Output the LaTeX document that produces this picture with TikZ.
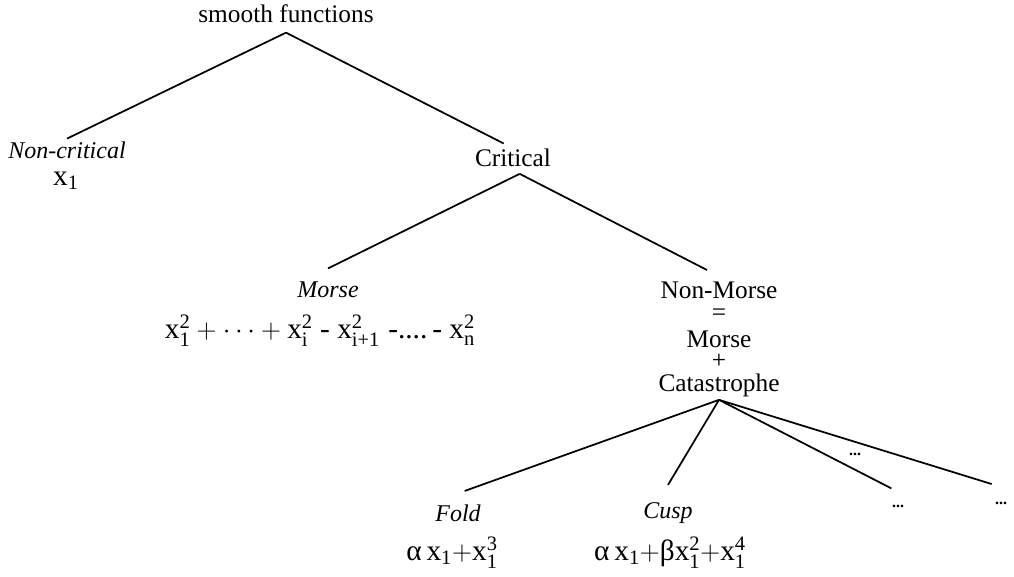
\documentclass[tikz,border=0pt]{standalone}
\usepackage{fontspec}
\usepackage{amsmath}
\setmainfont{Liberation Serif}
\newcommand{\vx}[2]{\text{x}_{\text{#1}}^{\text{#2}}}

\begin{document}
\begin{tikzpicture}[x=0.75pt,y=-0.75pt,
    title/.style={font=\fontsize{19}{21}\selectfont, inner sep=0pt},
    kind/.style={font=\fontsize{18}{20}\selectfont\itshape, inner sep=0pt},
    form/.style={font=\fontsize{22}{24}\selectfont, inner sep=0pt},
    etc/.style={font=\fontsize{12}{14}\selectfont\bfseries, inner sep=0pt, anchor=base},
    branch/.style={line width=1.3pt}]
    \useasboundingbox (0,0) rectangle (1014,577);

    \node[title] (smooth) at (286,14) {smooth functions};
    \node[kind] (noncrit) at (67,150) {Non-critical};
    \node[form] (lin) at (66,181) {$\text{x}_{\text{1}}$};
    \node[title] (crit) at (513,158) {Critical};
    \node[kind] (morse) at (328,290) {Morse};
    \node[form] (quad) at (320,331) {$\vx{1}{2}+\cdots+\vx{i}{2}$ - $\vx{i+1}{2}$\;-....\,- $\vx{n}{2}$};

    \node[title, align=center, anchor=north] (nonmorse) at (719,282)
        {Non-Morse\\[-5pt] =\\[-0.5pt] Morse\\[-5pt] +\\[-4pt] Catastrophe};

    \node[kind] (fold) at (458,513) {Fold};
    \node[form] (foldf) at (452,553) {$\text{α\,x}_{\text{1}}{+}\vx{1}{3}$};
    \node[kind] (cusp) at (668,513) {Cusp};
    \node[form] (cuspf) at (670,553) {$\text{α\,x}_{\text{1}}{+}\text{β}\vx{1}{2}{+}\vx{1}{4}$};
    \node[etc] (dotsa) at (855,455) {...};
    \node[etc] (dotsb) at (898,507) {...};
    \node[etc] (dotsc) at (1001,504) {...};

    % branches
    \draw[branch] ([yshift=-7]smooth.south) -- ([yshift=2]noncrit.north);
    \draw[branch] ([yshift=-7]smooth.south) -- ([xshift=-7,yshift=4]crit.north);
    \draw[branch] ([xshift=5,yshift=-5]crit.south) -- ([yshift=10]morse.north);
    \draw[branch] ([xshift=5,yshift=-5]crit.south) -- ([xshift=-9,yshift=9]nonmorse.north);
    \draw[branch] ([yshift=-2]nonmorse.south) -- ([xshift=5,yshift=10]fold.north);
    \draw[branch] ([yshift=-2]nonmorse.south) -- ([yshift=13]cusp.north);
    \draw[branch] ([yshift=-2]nonmorse.south) -- ([xshift=-5,yshift=12]dotsb.north);
    \draw[branch] ([yshift=-2]nonmorse.south) -- ([xshift=-7,yshift=13]dotsc.north);
\end{tikzpicture}
\end{document}
